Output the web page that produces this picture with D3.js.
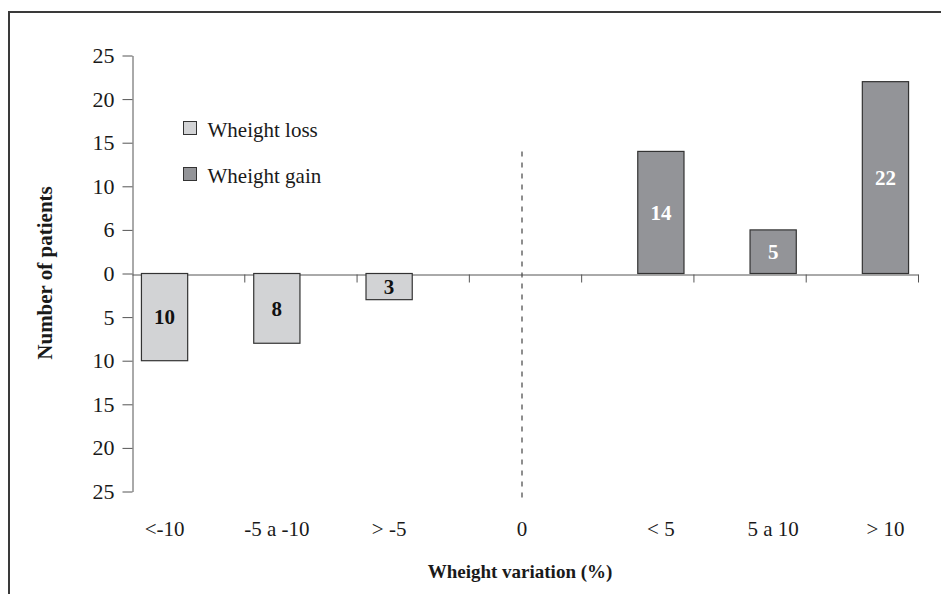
<!DOCTYPE html>
<html>
<head>
<meta charset="utf-8">
<script src="https://cdn.jsdelivr.net/npm/d3@7"></script>
<style>
    body { margin: 0; background: #fff; }
    text { font-family: "Liberation Serif", "Times New Roman", serif; }
</style>
</head>
<body>
<div id="chart"></div>
<script>
// categories along the x axis
var categories = ['<-10', '-5 a -10', '> -5', '0', '< 5', '5 a 10', '> 10']
var series = ['Wheight loss', 'Wheight gain']
// patients per category (loss drawn below zero)
var lossValues = [10, 8, 3, null, null, null, null]
var gainValues = [null, null, null, null, 14, 5, 22]
// y ticks and the labels printed on them (as in the source figure)
var yTickValues = [25, 20, 15, 10, 5, 0, -5, -10, -15, -20, -25]
var yTickLabels = ['25', '20', '15', '10', '6', '0', '5', '10', '15', '20', '25']
var refCategory = '0'

var W = 941, H = 594
var colors = { 'Wheight loss': '#d2d3d5', 'Wheight gain': '#939498' }
var labelColors = { 'Wheight loss': '#111', 'Wheight gain': '#fff' }

var svg = d3.select('#chart').append('svg')
    .attr('width', W)
    .attr('height', H)

// cropped frame (only top and left edges visible)
svg.append('path')
    .attr('d', 'M9,' + H + 'V12H' + W)
    .attr('fill', 'none')
    .attr('stroke', '#3a3a3a')
    .attr('stroke-width', 2)

var plotLeft = 132, plotRight = 918
var y = d3.scaleLinear().domain([-25, 25]).range([491.5, 55.5])
var x0 = d3.scaleBand().domain(categories).range([plotLeft, plotRight]).padding(0)
var x1 = d3.scaleBand().domain(series).range([0, x0.bandwidth()])
    .paddingOuter(0.2).paddingInner(0.02)

var rows = categories.map(function(c, i) {
    return { cat: c, loss: lossValues[i], gain: gainValues[i] }
})

// y axis
var yAxis = d3.axisLeft(y)
    .tickValues(yTickValues)
    .tickFormat(function(d, i) { return yTickLabels[i] })
    .tickSize(10)
    .tickSizeOuter(0)
    .tickPadding(8)
var gy = svg.append('g')
    .attr('transform', 'translate(' + (plotLeft + 0.5) + ',0)')
    .call(yAxis)
gy.selectAll('path, line').attr('stroke', '#555')
gy.selectAll('text')
    .attr('fill', '#1a1a1a')
    .style('font-size', '22px')

// x axis at zero with ticks on category boundaries
var xb = d3.scaleLinear().domain([0, categories.length]).range([plotLeft, plotRight])
var xAxis = d3.axisBottom(xb)
    .tickValues(d3.range(1, categories.length + 1))
    .tickFormat('')
    .tickSize(8)
    .tickSizeOuter(0)
var gx = svg.append('g')
    .attr('transform', 'translate(0,' + (Math.round(y(0)) + 0.5) + ')')
    .call(xAxis)
gx.selectAll('path, line').attr('stroke', '#555')

// reference dashed line at "0"
svg.append('line')
    .attr('x1', x0(refCategory) + x0.bandwidth() / 2 - 3)
    .attr('x2', x0(refCategory) + x0.bandwidth() / 2 - 3)
    .attr('y1', y(14))
    .attr('y2', y(-26.3))
    .attr('stroke', '#444')
    .attr('stroke-width', 1.2)
    .attr('stroke-dasharray', '5,6')

// bars
var bars = []
rows.forEach(function(r) {
    if (r.loss != null) bars.push({ cat: r.cat, s: 'Wheight loss', v: -r.loss, n: r.loss })
    if (r.gain != null) bars.push({ cat: r.cat, s: 'Wheight gain', v: r.gain, n: r.gain })
})

svg.selectAll('.bar')
    .data(bars)
    .enter()
    .append('rect')
    .attr('class', 'bar')
    .attr('x', function(d) { return x0(d.cat) + x1(d.s) })
    .attr('width', x1.bandwidth())
    .attr('y', function(d) { return Math.min(y(d.v), y(0)) })
    .attr('height', function(d) { return Math.abs(y(d.v) - y(0)) })
    .attr('fill', function(d) { return colors[d.s] })
    .attr('stroke', '#333')
    .attr('stroke-width', 1.2)

svg.selectAll('.barLabel')
    .data(bars)
    .enter()
    .append('text')
    .attr('class', 'barLabel')
    .attr('x', function(d) { return x0(d.cat) + x1(d.s) + x1.bandwidth() / 2 })
    .attr('y', function(d) { return (y(d.v) + y(0)) / 2 })
    .attr('dy', '0.35em')
    .attr('text-anchor', 'middle')
    .attr('fill', function(d) { return labelColors[d.s] })
    .style('font-size', '21px')
    .style('font-weight', 'bold')
    .text(function(d) { return d.n })

// category labels, under their bar (or mid band when empty)
svg.selectAll('.catLabel')
    .data(rows)
    .enter()
    .append('text')
    .attr('class', 'catLabel')
    .attr('x', function(d) {
        if (d.loss != null) return x0(d.cat) + x1('Wheight loss') + x1.bandwidth() / 2
        if (d.gain != null) return x0(d.cat) + x1('Wheight gain') + x1.bandwidth() / 2
        return x0(d.cat) + x0.bandwidth() / 2 - 3
    })
    .attr('y', 535.5)
    .attr('text-anchor', 'middle')
    .attr('fill', '#1a1a1a')
    .style('font-size', '21px')
    .text(function(d) { return d.cat })

// axis titles
svg.append('text')
    .attr('x', 520)
    .attr('y', 578)
    .attr('text-anchor', 'middle')
    .attr('fill', '#1a1a1a')
    .style('font-size', '19px')
    .style('font-weight', 'bold')
    .text('Wheight variation (%)')

svg.append('text')
    .attr('transform', 'translate(52,273) rotate(-90)')
    .attr('text-anchor', 'middle')
    .attr('fill', '#1a1a1a')
    .style('font-size', '21px')
    .style('font-weight', 'bold')
    .text('Number of patients')

// legend
var legend = svg.selectAll('.legend')
    .data(series)
    .enter()
    .append('g')
    .attr('class', 'legend')
    .attr('transform', function(d, i) { return 'translate(183.5,' + (121.5 + i * 46) + ')' })
legend.append('rect')
    .attr('width', 13)
    .attr('height', 13)
    .attr('fill', function(d) { return colors[d] })
    .attr('stroke', '#333')
    .attr('stroke-width', 1)
legend.append('text')
    .attr('x', 24)
    .attr('y', 15.5)
    .attr('fill', '#1a1a1a')
    .style('font-size', '21px')
    .text(function(d) { return d })
</script>
</body>
</html>
